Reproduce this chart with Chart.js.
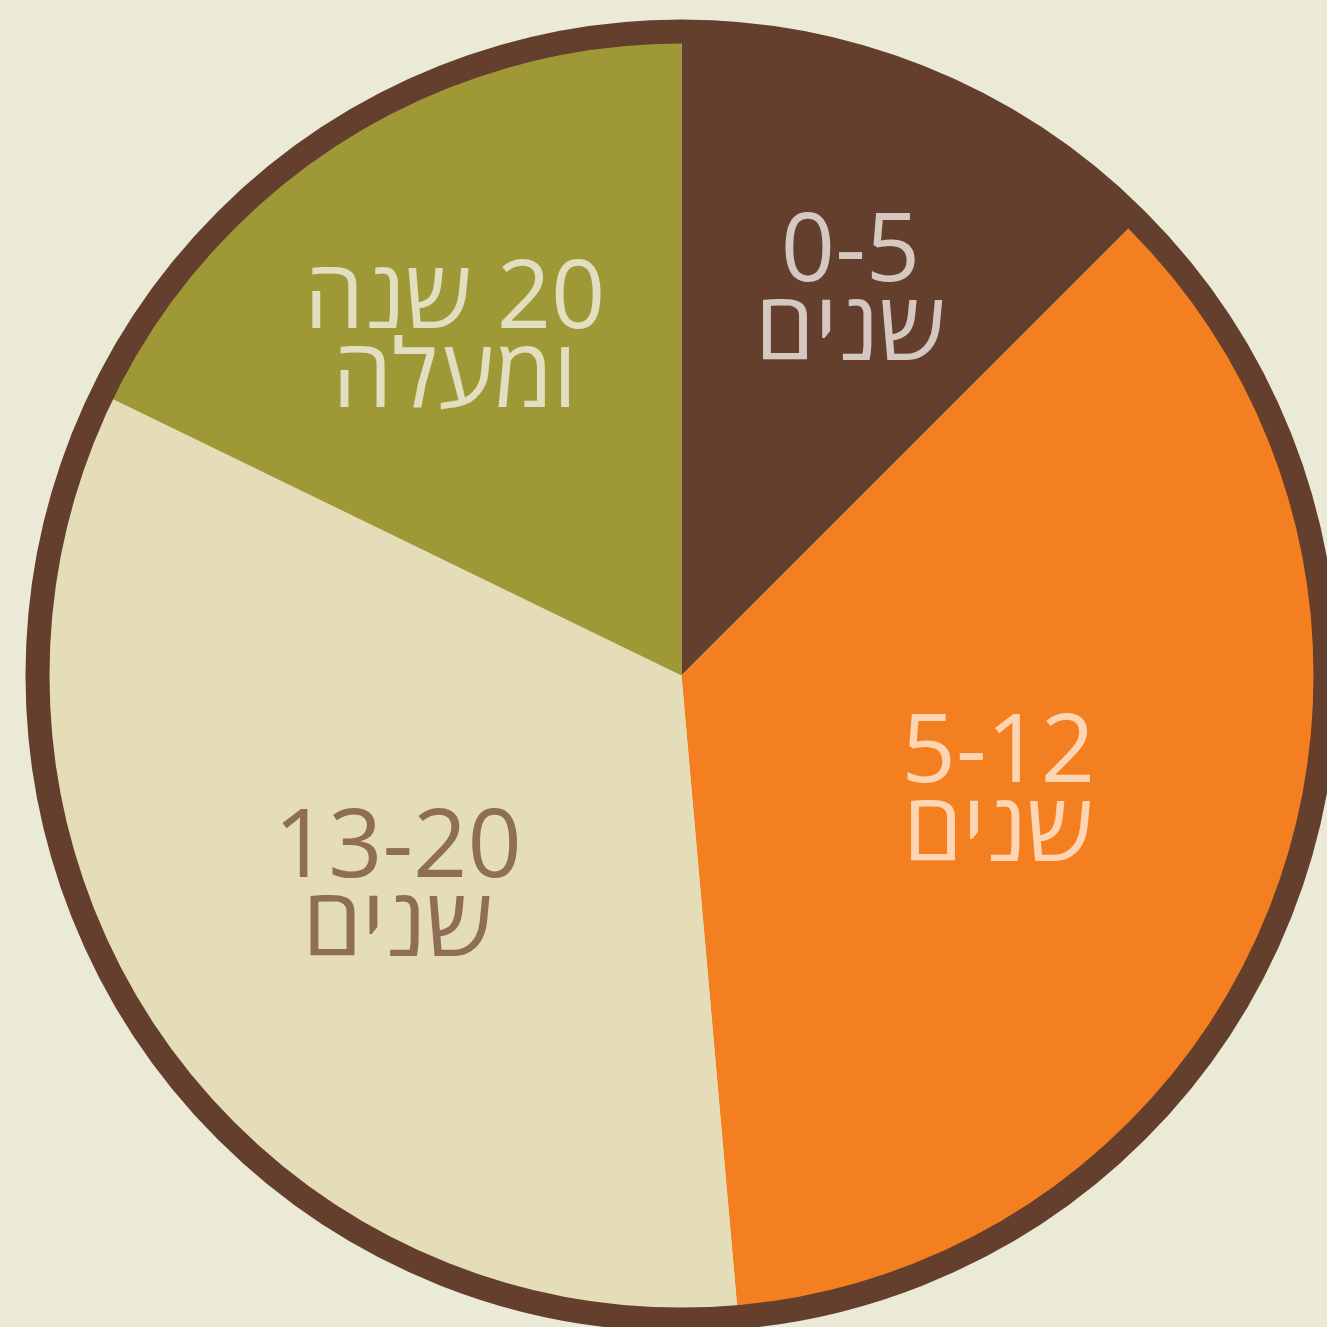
<!DOCTYPE html>
<html>
<head>
<meta charset="utf-8">
<script src="https://cdn.jsdelivr.net/npm/chart.js@4/dist/chart.umd.min.js"></script>
<style>
  html, body { margin: 0; padding: 0; background: #ebead6; overflow: hidden; }
  canvas { display: block; }
</style>
</head>
<body>
<canvas id="c" width="1327" height="1327"></canvas>
<script>
// Data
const categories = ["0-5 שנים", "5-12 שנים", "13-20 שנים", "20 שנה ומעלה"];
const labelLine1 = ["0-5", "5-12", "13-20", "20 שנה"];
const labelLine2 = ["שנים", "שנים", "שנים", "ומעלה"];
const shares = [12.5, 36.1, 33.6, 17.8];

// Styling
const sliceColors = ["#653f2d", "#f47f20", "#e4ddb8", "#9e9837"];
const labelColors = ["#d5c8c0", "#fdd5b3", "#8e6e55", "#e2dec0"];
const labelRadiusFrac = [0.672, 0.53, 0.553, 0.65];
const labelAngleNudge = [0.9, -0.8, -1.3, -1.4]; // degrees
const ringColor = "#653f2d";
const ringWidth = 23;
const FONT = "'Open Sans', 'Liberation Sans', 'DejaVu Sans', sans-serif";

const ringAndLabels = {
  id: 'ringAndLabels',
  afterDatasetsDraw(chart) {
    const ctx = chart.ctx;
    const meta = chart.getDatasetMeta(0);
    const arcs = meta.data;
    if (!arcs.length) return;
    const a0 = arcs[0];
    const cx = a0.x, cy = a0.y, R = a0.outerRadius;
    // outer ring (overlaps the pie edge by 1px to hide anti-alias seams)
    ctx.save();
    ctx.beginPath();
    ctx.arc(cx, cy, R + ringWidth / 2 - 0.5, 0, Math.PI * 2);
    ctx.strokeStyle = ringColor;
    ctx.lineWidth = ringWidth + 1;
    ctx.stroke();
    ctx.restore();
    // labels
    arcs.forEach((arc, i) => {
      const mid = (arc.startAngle + arc.endAngle) / 2 + labelAngleNudge[i] * Math.PI / 180;
      const r = R * labelRadiusFrac[i];
      const x = cx + Math.cos(mid) * r;
      const y = cy + Math.sin(mid) * r;
      ctx.save();
      ctx.direction = 'rtl';
      ctx.textAlign = 'center';
      ctx.textBaseline = 'alphabetic';
      ctx.fillStyle = labelColors[i];
      ctx.font = "400 95px " + FONT;
      ctx.fillText(labelLine1[i], x, y - 4);
      ctx.fillText(labelLine2[i], x, y + 75);
      ctx.restore();
    });
  }
};

new Chart(document.getElementById('c'), {
  type: 'pie',
  data: {
    labels: categories,
    datasets: [{
      data: shares,
      backgroundColor: sliceColors,
      borderWidth: 0,
      radius: 633
    }]
  },
  options: {
    responsive: false,
    animation: false,
    layout: { padding: { left: 36, top: 24, right: 0, bottom: 0 } },
    plugins: {
      legend: { display: false },
      tooltip: { enabled: false }
    }
  },
  plugins: [ringAndLabels]
});
</script>
</body>
</html>
